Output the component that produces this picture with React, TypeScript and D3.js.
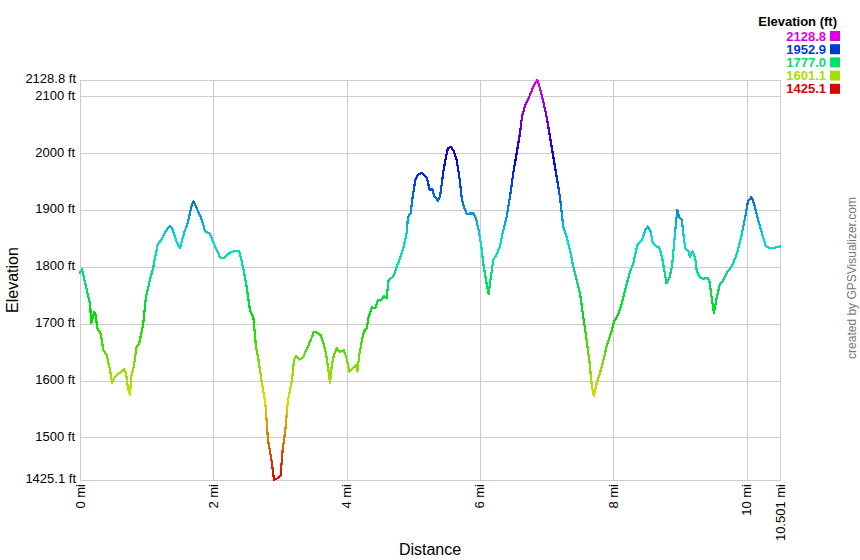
import React from "react";
import * as d3 from "d3";

const distanceMi: number[] = [
  0, 0.03, 0.09, 0.15, 0.17, 0.21, 0.23, 0.26, 0.31, 0.35,
  0.40, 0.45, 0.48, 0.51, 0.53, 0.60, 0.66, 0.69, 0.72, 0.75,
  0.77, 0.81, 0.85, 0.89, 0.95, 0.99, 1.05, 1.10, 1.13, 1.17,
  1.22, 1.28, 1.35, 1.38, 1.44, 1.50, 1.56, 1.62, 1.67, 1.70,
  1.74, 1.82, 1.88, 1.95, 2.02, 2.10, 2.15, 2.25, 2.32, 2.39,
  2.45, 2.50, 2.55, 2.60, 2.64, 2.67, 2.73, 2.78, 2.82, 2.88,
  2.91, 2.96, 3.01, 3.04, 3.08, 3.12, 3.18, 3.21, 3.24, 3.30,
  3.35, 3.40, 3.46, 3.51, 3.56, 3.61, 3.65, 3.69, 3.72, 3.75,
  3.78, 3.81, 3.85, 3.90, 3.96, 4.00, 4.04, 4.09, 4.14, 4.16,
  4.19, 4.23, 4.26, 4.30, 4.33, 4.38, 4.43, 4.47, 4.51, 4.56,
  4.60, 4.63, 4.70, 4.75, 4.80, 4.85, 4.90, 4.92, 4.96, 4.99,
  5.03, 5.07, 5.13, 5.19, 5.22, 5.24, 5.29, 5.31, 5.37, 5.40,
  5.45, 5.49, 5.52, 5.57, 5.61, 5.65, 5.69, 5.73, 5.76, 5.80,
  5.85, 5.90, 5.94, 5.98, 6.02, 6.05, 6.09, 6.13, 6.15, 6.20,
  6.25, 6.30, 6.35, 6.40, 6.45, 6.50, 6.55, 6.60, 6.63, 6.68,
  6.73, 6.78, 6.83, 6.86, 6.90, 6.95, 7.00, 7.05, 7.10, 7.15,
  7.20, 7.25, 7.30, 7.35, 7.40, 7.45, 7.50, 7.55, 7.60, 7.64,
  7.68, 7.71, 7.75, 7.80, 7.85, 7.90, 7.98, 8.01, 8.07, 8.13,
  8.19, 8.25, 8.30, 8.36, 8.43, 8.48, 8.52, 8.56, 8.59, 8.64,
  8.69, 8.73, 8.76, 8.80, 8.84, 8.88, 8.91, 8.94, 8.96, 8.99,
  9.03, 9.05, 9.08, 9.13, 9.15, 9.19, 9.23, 9.25, 9.29, 9.35,
  9.41, 9.44, 9.48, 9.51, 9.55, 9.60, 9.64, 9.70, 9.77, 9.83,
  9.87, 9.93, 9.98, 10.02, 10.07, 10.11, 10.16, 10.23, 10.29, 10.35,
  10.43, 10.501,
];

const elevationFt: number[] = [
  1790, 1796, 1765, 1736, 1701, 1720, 1718, 1692, 1683, 1654,
  1645, 1619, 1596, 1604, 1607, 1614, 1620, 1613, 1586, 1575,
  1607, 1627, 1660, 1666, 1701, 1748, 1777, 1800, 1818, 1841,
  1847, 1862, 1872, 1868, 1847, 1833, 1859, 1879, 1906, 1915,
  1906, 1885, 1862, 1858, 1838, 1817, 1815, 1825, 1828, 1827,
  1797, 1765, 1724, 1712, 1660, 1642, 1595, 1560, 1496, 1455,
  1425.1, 1428, 1434, 1478, 1513, 1566, 1601, 1636, 1643, 1637,
  1642, 1655, 1671, 1686, 1684, 1680, 1666, 1648, 1624, 1596,
  1630, 1645, 1657, 1651, 1653, 1639, 1616, 1622, 1627, 1616,
  1645, 1671, 1686, 1692, 1712, 1729, 1727, 1742, 1741, 1748,
  1745, 1777, 1783, 1800, 1815, 1833, 1859, 1888, 1894, 1923,
  1953, 1962, 1966, 1959, 1950, 1936, 1936, 1926, 1916, 1923,
  1967, 1994, 2009, 2011, 2003, 1988, 1959, 1918, 1906, 1893,
  1894, 1894, 1885, 1865, 1836, 1806, 1777, 1752, 1771, 1812,
  1822, 1836, 1865, 1888, 1923, 1965, 2000, 2035, 2064, 2085,
  2097, 2111, 2123, 2128.8, 2114, 2091, 2064, 2029, 1994, 1959,
  1923, 1871, 1853, 1830, 1800, 1777, 1754, 1712, 1671, 1636,
  1589, 1572, 1595, 1613, 1636, 1660, 1689, 1704, 1715, 1736,
  1765, 1791, 1806, 1838, 1847, 1865, 1871, 1862, 1844, 1836,
  1834, 1818, 1797, 1771, 1780, 1800, 1838, 1877, 1900, 1888,
  1882, 1859, 1833, 1827, 1818, 1827, 1815, 1795, 1783, 1779,
  1781, 1777, 1742, 1719, 1745, 1770, 1774, 1789, 1800, 1815,
  1830, 1859, 1888, 1915, 1923, 1912, 1888, 1859, 1836, 1833,
  1834, 1836,
];

const yMin = 1425.1;
const yMax = 2128.8;
const xMax = 10.501;

const yTickValues: number[] = [1500, 1600, 1700, 1800, 1900, 2000, 2100];
const yTickLabels: string[] = ["1500 ft", "1600 ft", "1700 ft", "1800 ft", "1900 ft", "2000 ft", "2100 ft"];
const yEndLabels: string[] = ["1425.1 ft", "2128.8 ft"];
const xTickValues: number[] = [0, 2, 4, 6, 8, 10, 10.501];
const xTickLabels: string[] = ["0 mi", "2 mi", "4 mi", "6 mi", "8 mi", "10 mi", "10.501 mi"];

const legendValues: number[] = [2128.8, 1952.9, 1777.0, 1601.1, 1425.1];
const legendLabels: string[] = ["2128.8", "1952.9", "1777.0", "1601.1", "1425.1"];

const FONT = "'Liberation Sans', Arial, Helvetica, sans-serif";

export default function App() {
  const W = 860;
  const H = 560;
  const L = 80, R = 780, T = 80, B = 480;

  const x = d3.scaleLinear().domain([0, xMax]).range([L, R]);
  const y = d3.scaleLinear().domain([yMin, yMax]).range([B, T]);

  const colorOf = (v: number) => {
    const t = (v - yMin) / (yMax - yMin);
    return d3.hsl(300 * t, 1, 0.435).formatHex();
  };

  const pts: [number, number][] = distanceMi.map((d, i) => [d, elevationFt[i]]);
  const line = d3
    .line<[number, number]>()
    .x((d) => x(d[0]))
    .y((d) => y(d[1]));

  const stops = d3.range(0, 1.0001, 0.025).map((t) => ({
    offset: t,
    color: colorOf(yMin + t * (yMax - yMin)),
  }));

  const grid = "#cccccc";

  return (
    <svg
      width={W}
      height={H}
      style={{ position: "absolute", left: 0, top: 0, background: "#fff" }}
      fontFamily={FONT}
    >
      <defs>
        <linearGradient
          id="elevGrad"
          gradientUnits="userSpaceOnUse"
          x1={0}
          x2={0}
          y1={y(yMin)}
          y2={y(yMax)}
        >
          {stops.map((s, i) => (
            <stop key={i} offset={s.offset} stopColor={s.color} />
          ))}
        </linearGradient>
      </defs>
      <rect x={0} y={0} width={W} height={H} fill="#fff" />

      {/* horizontal gridlines */}
      {yTickValues.map((v) => (
        <line
          key={"hy" + v}
          x1={L}
          x2={R}
          y1={Math.round(y(v)) + 0.5}
          y2={Math.round(y(v)) + 0.5}
          stroke={grid}
          strokeWidth={1}
        />
      ))}
      {/* vertical gridlines */}
      {xTickValues.map((v) => (
        <line
          key={"vx" + v}
          x1={Math.round(x(v)) + 0.5}
          x2={Math.round(x(v)) + 0.5}
          y1={T}
          y2={B}
          stroke={grid}
          strokeWidth={1}
        />
      ))}
      {/* frame */}
      <rect x={L + 0.5} y={T + 0.5} width={R - L} height={B - T} fill="none" stroke={grid} strokeWidth={1} />

      {/* y tick labels */}
      {yTickValues.map((v, i) => (
        <text
          key={"yl" + v}
          x={L - 5}
          y={y(v)}
          textAnchor="end"
          dominantBaseline="middle"
          fontSize={13}
          fill="#000"
        >
          {yTickLabels[i]}
        </text>
      ))}
      <text x={L - 4} y={y(yMin)} textAnchor="end" dominantBaseline="middle" fontSize={13} fill="#000">
        {yEndLabels[0]}
      </text>
      <text x={L - 4} y={y(yMax)} textAnchor="end" dominantBaseline="middle" fontSize={13} fill="#000">
        {yEndLabels[1]}
      </text>

      {/* x tick labels */}
      {xTickValues.map((v, i) => (
        <text
          key={"xl" + v}
          transform={`translate(${x(v) + 4.5},${B + 4}) rotate(-90)`}
          textAnchor="end"
          fontSize={13}
          fill="#000"
        >
          {xTickLabels[i]}
        </text>
      ))}

      {/* profile line */}
      <path
        d={line(pts) || ""}
        fill="none"
        stroke="url(#elevGrad)"
        strokeWidth={2.2}
        strokeLinejoin="round"
        strokeLinecap="round"
        shapeRendering="crispEdges"
      />

      {/* axis titles */}
      <text x={(L + R) / 2} y={555} textAnchor="middle" fontSize={16} fill="#000">
        Distance
      </text>
      <text
        transform={`translate(18,${(T + B) / 2}) rotate(-90)`}
        textAnchor="middle"
        fontSize={16}
        fill="#000"
      >
        Elevation
      </text>

      {/* legend */}
      <text x={837} y={26} textAnchor="end" fontSize={13} fontWeight="bold" fill="#000">
        Elevation (ft)
      </text>
      {legendValues.map((v, i) => (
        <g key={"lg" + i}>
          <text
            x={826}
            y={40.5 + i * 13.2}
            textAnchor="end"
            fontSize={13}
            fontWeight="bold"
            fill={colorOf(v)}
          >
            {legendLabels[i]}
          </text>
          <rect x={830} y={31 + i * 13.2} width={10} height={10} fill={colorOf(v)} />
        </g>
      ))}

      {/* watermark */}
      <text
        transform={`translate(856,${(T + B) / 2 - 2}) rotate(-90)`}
        textAnchor="middle"
        fontSize={12}
        fill="#777"
      >
        created by GPSVisualizer.com
      </text>
    </svg>
  );
}
